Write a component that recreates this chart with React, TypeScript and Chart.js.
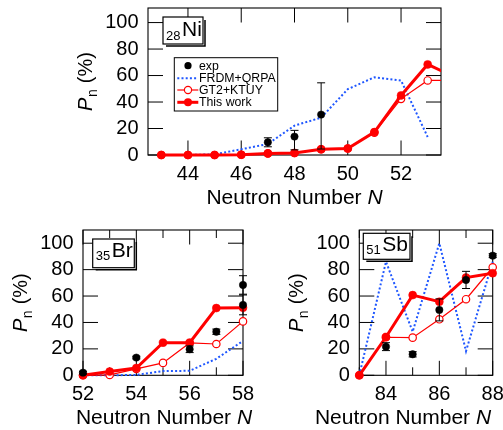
import React, { useEffect, useRef } from 'react';
import { Chart, registerables } from 'chart.js';

Chart.register(...registerables);

const FONT = '"Liberation Sans", Arial, Helvetica, sans-serif';
const RED = '#ff0000';
const BLUE = '#1f57ff';

// ---------- 28Ni ----------
const niN = [43, 44, 45, 46, 47, 48, 49, 50, 51, 52, 53, 54];
const niThisWork = [0, 0, 0, 0.2, 1.2, 1.5, 4.3, 4.9, 17.3, 45, 68.4, 59];
const niGT2 = [0, 0, 0, 0.2, 1.2, 1.5, 4.3, 4.9, 16.9, 42.4, 56.3, 56.3];
const niFrdmN = [43, 44, 45, 46, 47, 48, 49, 50, 51, 52, 53];
const niFrdm = [0, 0, 0.5, 4.3, 8.3, 22.2, 28.2, 49.7, 58.7, 56.3, 13.6];
const niExpN = [47, 48, 49];
const niExp = [9.6, 13.9, 30.5];
const niExpErrHi = [3.4, 4.7, 24];
const niExpErrLo = [3.4, 10, 26];
const niXTicks = [44, 46, 48, 50, 52];
const niXMinor: number[] = [];

// ---------- 35Br ----------
const brN = [52, 53, 54, 55, 56, 57, 58];
const brThisWork = [0, 2.8, 5.5, 24.7, 24.7, 50.9, 51.2];
const brGT2 = [0, 0.3, 4.8, 9.4, 24.5, 23.7, 40.8];
const brFrdm = [0, 0, 0.3, 3.2, 3.4, 12.5, 26];
const brExpN = [52, 54, 56, 57, 58, 58];
const brExp = [2, 13.4, 19.7, 33, 68.4, 53.3];
const brExpErrHi = [1, 1, 2.5, 2, 7, 7.5];
const brExpErrLo = [1, 1, 2.5, 2, 7, 7.5];
const brXTicks = [52, 54, 56, 58];
const brXMinor = [53, 55, 57];

// ---------- 51Sb ----------
const sbN = [83, 84, 85, 86, 87, 88];
const sbThisWork = [0, 29, 60.7, 55.7, 74, 77.3];
const sbGT2 = [0, 28.8, 28.5, 42.4, 57.6, 81.8];
const sbFrdm = [0, 86, 33, 100, 18.3, 86];
const sbExpN = [84, 85, 86, 87, 88];
const sbExp = [21.7, 15.9, 49.5, 72.2, 90.6];
const sbExpErrHi = [3, 2, 8.3, 6.5, 1.5];
const sbExpErrLo = [3, 2, 8.3, 6.5, 1.5];
const sbXTicks = [84, 86, 88];
const sbXMinor = [83, 85, 87];

const yTicks = [0, 20, 40, 60, 80, 100];

const legendNames = ['exp', 'FRDM+QRPA', 'GT2+KTUY', 'This work'];

type PanelCfg = {
  left: number; top: number; width: number; height: number;
  area: { left: number; top: number; right: number; bottom: number };
  xMin: number; xMax: number; yMax: number;
  xTicks: number[]; xMinor: number[];
  n: number[]; thisWork: number[]; gt2: number[];
  frdmN: number[]; frdm: number[];
  expN: number[]; exp: number[]; errHi: number[]; errLo: number[];
  sub: string; main: string;
  box: { dx: number; dy: number; w: number; h: number; base: number };
  legend: boolean;
  titleShift: number;
  clip: any;
};

const panels: PanelCfg[] = [
  {
    left: 0, top: 0, width: 503, height: 215,
    area: { left: 148, top: 8, right: 441, bottom: 155 },
    xMin: 42.5, xMax: 53.5, yMax: 111,
    xTicks: niXTicks, xMinor: niXMinor,
    n: niN, thisWork: niThisWork, gt2: niGT2,
    frdmN: niFrdmN, frdm: niFrdm,
    expN: niExpN, exp: niExp, errHi: niExpErrHi, errLo: niExpErrLo,
    sub: '28', main: 'Ni',
    box: { dx: 15, dy: 9, w: 40, h: 27, base: 19.3 },
    legend: true,
    titleShift: 0,
    clip: { left: false, top: false, right: 0, bottom: false },
  },
  {
    left: 0, top: 215, width: 260, height: 215,
    area: { left: 83, top: 15, right: 243, bottom: 160.3 },
    xMin: 52, xMax: 58, yMax: 110,
    xTicks: brXTicks, xMinor: brXMinor,
    n: brN, thisWork: brThisWork, gt2: brGT2,
    frdmN: brN, frdm: brFrdm,
    expN: brExpN, exp: brExp, errHi: brExpErrHi, errLo: brExpErrLo,
    sub: '35', main: 'Br',
    box: { dx: 9.7, dy: 9, w: 41.6, h: 28.7, base: 17.7 },
    legend: false,
    titleShift: 1,
    clip: false,
  },
  {
    left: 260, top: 215, width: 243, height: 215,
    area: { left: 99.3, top: 15, right: 232.7, bottom: 160.3 },
    xMin: 83, xMax: 88, yMax: 110,
    xTicks: sbXTicks, xMinor: sbXMinor,
    n: sbN, thisWork: sbThisWork, gt2: sbGT2,
    frdmN: sbN, frdm: sbFrdm,
    expN: sbExpN, exp: sbExp, errHi: sbExpErrHi, errLo: sbExpErrLo,
    sub: '51', main: 'Sb',
    box: { dx: 4, dy: 3.3, w: 46.7, h: 26, base: 17.7 },
    legend: false,
    titleShift: -23,
    clip: false,
  },
];

function pts(xs: number[], ys: number[]) {
  return ys.map((y, i) => ({ x: xs[i], y }));
}

function makePlugin(p: PanelCfg) {
  return {
    id: 'panelDeco',
    beforeDatasetsDraw(chart: any) {
      const ctx = chart.ctx as CanvasRenderingContext2D;
      const a = chart.chartArea;
      const xs = chart.scales.x;
      const ys = chart.scales.y;
      ctx.save();
      ctx.strokeStyle = '#000';
      ctx.lineWidth = 1.1;
      ctx.strokeRect(a.left, a.top, a.right - a.left, a.bottom - a.top);
      ctx.lineWidth = 1;
      ctx.beginPath();
      const tick = (v: number, len: number) => {
        const x = xs.getPixelForValue(v);
        ctx.moveTo(x, a.bottom); ctx.lineTo(x, a.bottom - len);
        ctx.moveTo(x, a.top); ctx.lineTo(x, a.top + len);
      };
      p.xTicks.forEach((v) => tick(v, 14.5));
      p.xMinor.forEach((v) => tick(v, 8));
      yTicks.forEach((v) => {
        const y = ys.getPixelForValue(v);
        ctx.moveTo(a.left, y); ctx.lineTo(a.left + 15, y);
        ctx.moveTo(a.right, y); ctx.lineTo(a.right - 15, y);
      });
      ctx.stroke();
      ctx.restore();
    },
    afterDatasetsDraw(chart: any) {
      const ctx = chart.ctx as CanvasRenderingContext2D;
      const a = chart.chartArea;
      const xs = chart.scales.x;
      const ys = chart.scales.y;
      ctx.save();
      // error bars
      ctx.strokeStyle = '#000';
      ctx.lineWidth = 1;
      ctx.beginPath();
      p.exp.forEach((v, i) => {
        const x = xs.getPixelForValue(p.expN[i]);
        const y1 = ys.getPixelForValue(v + p.errHi[i]);
        const y2 = ys.getPixelForValue(v - p.errLo[i]);
        ctx.moveTo(x, y1); ctx.lineTo(x, y2);
        ctx.moveTo(x - 4, y1); ctx.lineTo(x + 4, y1);
        ctx.moveTo(x - 4, y2); ctx.lineTo(x + 4, y2);
      });
      ctx.stroke();

      // element label box
      const bx = a.left + p.box.dx;
      const by = a.top + p.box.dy;
      ctx.fillStyle = '#fff';
      ctx.fillRect(bx, by, p.box.w, p.box.h);
      ctx.lineWidth = 1.2;
      ctx.strokeRect(bx, by, p.box.w, p.box.h);
      ctx.lineWidth = 1.5;
      ctx.beginPath();
      ctx.moveTo(bx + p.box.w + 2, by + 3);
      ctx.lineTo(bx + p.box.w + 2, by + p.box.h + 2);
      ctx.lineTo(bx + 3, by + p.box.h + 2);
      ctx.stroke();
      ctx.fillStyle = '#000';
      ctx.textBaseline = 'alphabetic';
      ctx.textAlign = 'left';
      ctx.font = `13px ${FONT}`;
      const sw = ctx.measureText(p.sub).width;
      ctx.fillText(p.sub, bx + 3, by + p.box.base + 3.3);
      ctx.font = `21px ${FONT}`;
      ctx.fillText(p.main, bx + 3 + sw + 1.5, by + p.box.base);

      // legend
      if (p.legend) {
        const lx = a.left + 26.3;
        const ly = a.top + 49.7;
        const lw = 103.4;
        const lh = 53.3;
        ctx.fillStyle = '#fff';
        ctx.fillRect(lx, ly, lw, lh);
        ctx.strokeStyle = '#000';
        ctx.lineWidth = 1;
        ctx.strokeRect(lx, ly, lw, lh);
        const rows = [8, 20.6, 32.3, 44.6];
        const cx = lx + 13.7;
        const x0 = lx + 3;
        const x1 = lx + 24;
        ctx.fillStyle = '#000';
        ctx.beginPath();
        ctx.arc(cx, ly + rows[0], 3.6, 0, Math.PI * 2);
        ctx.fill();
        ctx.strokeStyle = BLUE;
        ctx.lineWidth = 2;
        ctx.setLineDash([2, 2.2]);
        ctx.beginPath();
        ctx.moveTo(x0, ly + rows[1]); ctx.lineTo(x1, ly + rows[1]);
        ctx.stroke();
        ctx.setLineDash([]);
        ctx.strokeStyle = RED;
        ctx.lineWidth = 1.2;
        ctx.beginPath();
        ctx.moveTo(x0, ly + rows[2]); ctx.lineTo(x1, ly + rows[2]);
        ctx.stroke();
        ctx.fillStyle = '#fff';
        ctx.beginPath();
        ctx.arc(cx, ly + rows[2], 3.6, 0, Math.PI * 2);
        ctx.fill();
        ctx.stroke();
        ctx.lineWidth = 3;
        ctx.beginPath();
        ctx.moveTo(x0, ly + rows[3]); ctx.lineTo(x1, ly + rows[3]);
        ctx.stroke();
        ctx.fillStyle = RED;
        ctx.beginPath();
        ctx.arc(cx, ly + rows[3], 4, 0, Math.PI * 2);
        ctx.fill();
        ctx.fillStyle = '#000';
        ctx.font = `12.3px ${FONT}`;
        ctx.textBaseline = 'middle';
        legendNames.forEach((t, i) => ctx.fillText(t, lx + 24.7, ly + rows[i] + 0.5));
      }
      ctx.restore();
    },
    afterDraw(chart: any) {
      const ctx = chart.ctx as CanvasRenderingContext2D;
      const a = chart.chartArea;
      ctx.save();
      ctx.fillStyle = '#000';
      ctx.textBaseline = 'alphabetic';
      ctx.textAlign = 'left';
      const t1 = 'Neutron Number ';
      const t2 = 'N';
      ctx.font = `21px ${FONT}`;
      const w1 = ctx.measureText(t1).width;
      ctx.font = `italic 21px ${FONT}`;
      const w2 = ctx.measureText(t2).width;
      const x = (a.left + a.right) / 2 - (w1 + w2) / 2 + p.titleShift;
      const yb = a.bottom + 49;
      ctx.font = `21px ${FONT}`;
      ctx.fillText(t1, x, yb);
      ctx.font = `italic 21px ${FONT}`;
      ctx.fillText(t2, x + w1, yb);
      ctx.translate(a.left - 56, (a.top + a.bottom) / 2);
      ctx.rotate(-Math.PI / 2);
      const fP = `italic 20px ${FONT}`;
      const fn = `14px ${FONT}`;
      const fr = `20px ${FONT}`;
      ctx.font = fP; const wP = ctx.measureText('P').width;
      ctx.font = fn; const wn = ctx.measureText('n').width;
      ctx.font = fr; const wr = ctx.measureText(' (%)').width;
      let tx = -(wP + wn + 1 + wr) / 2;
      ctx.font = fP; ctx.fillText('P', tx, 0); tx += wP + 0.5;
      ctx.font = fn; ctx.fillText('n', tx, 4.5); tx += wn + 0.5;
      ctx.font = fr; ctx.fillText(' (%)', tx, 0);
      ctx.restore();
    },
  };
}

function makeConfig(p: PanelCfg): any {
  const tickFont = { family: FONT, size: 20 };
  return {
    type: 'line',
    data: {
      datasets: [
        {
          label: 'exp',
          data: pts(p.expN, p.exp),
          showLine: false,
          pointRadius: 3.7,
          pointBackgroundColor: '#000',
          pointBorderColor: '#000',
          pointBorderWidth: 0.5,
          borderColor: '#000',
          clip: p.clip,
        },
        {
          label: 'This work',
          data: pts(p.n, p.thisWork),
          borderColor: RED,
          borderWidth: 3,
          pointRadius: 4,
          pointBackgroundColor: RED,
          pointBorderColor: RED,
          pointBorderWidth: 0.5,
          tension: 0,
          clip: p.clip,
        },
        {
          label: 'GT2+KTUY',
          data: pts(p.n, p.gt2),
          borderColor: RED,
          borderWidth: 1.2,
          pointRadius: 3.7,
          pointBackgroundColor: '#fff',
          pointBorderColor: RED,
          pointBorderWidth: 1.2,
          tension: 0,
          clip: p.clip,
        },
        {
          label: 'FRDM+QRPA',
          data: pts(p.frdmN, p.frdm),
          borderColor: BLUE,
          borderWidth: 2,
          borderDash: [2, 2.2],
          pointRadius: 0,
          tension: 0,
          clip: p.clip,
        },
      ],
    },
    options: {
      responsive: false,
      animation: false,
      events: [],
      layout: {
        autoPadding: false,
        padding: { left: 0, top: p.area.top, right: p.width - p.area.right, bottom: 0 },
      },
      plugins: { legend: { display: false }, tooltip: { enabled: false } },
      scales: {
        x: {
          type: 'linear',
          min: p.xMin,
          max: p.xMax,
          afterBuildTicks: (s: any) => { s.ticks = p.xTicks.map((v) => ({ value: v })); },
          afterFit: (s: any) => {
            s.height = p.height - p.area.bottom;
            s.paddingLeft = 0; s.paddingRight = 0; s.paddingTop = 0; s.paddingBottom = 0;
          },
          grid: { display: false, drawTicks: false },
          border: { display: false },
          ticks: {
            font: tickFont, color: '#000', padding: 7, maxRotation: 0, minRotation: 0,
            autoSkip: false, callback: (v: any) => String(v),
          },
        },
        y: {
          type: 'linear',
          min: 0,
          max: p.yMax,
          afterBuildTicks: (s: any) => { s.ticks = yTicks.map((v) => ({ value: v })); },
          afterFit: (s: any) => {
            s.width = p.area.left;
            s.paddingLeft = 0; s.paddingRight = 0; s.paddingTop = 0; s.paddingBottom = 0;
          },
          grid: { display: false, drawTicks: false },
          border: { display: false },
          ticks: {
            font: tickFont, color: '#000', padding: 9.5, autoSkip: false,
            callback: (v: any) => String(v),
          },
        },
      },
    },
    plugins: [makePlugin(p)],
  };
}

function Panel({ cfg }: { cfg: PanelCfg }) {
  const ref = useRef<HTMLCanvasElement>(null);
  useEffect(() => {
    const chart = new Chart(ref.current as HTMLCanvasElement, makeConfig(cfg));
    return () => chart.destroy();
  }, [cfg]);
  return (
    <canvas
      ref={ref}
      width={cfg.width}
      height={cfg.height}
      style={{ position: 'absolute', left: cfg.left, top: cfg.top, width: cfg.width, height: cfg.height }}
    />
  );
}

export default function App() {
  return (
    <div style={{ position: 'fixed', left: 0, top: 0, width: 503, height: 430, background: '#fff', overflow: 'hidden' }}>
      {panels.map((p, i) => (
        <Panel key={i} cfg={p} />
      ))}
    </div>
  );
}
